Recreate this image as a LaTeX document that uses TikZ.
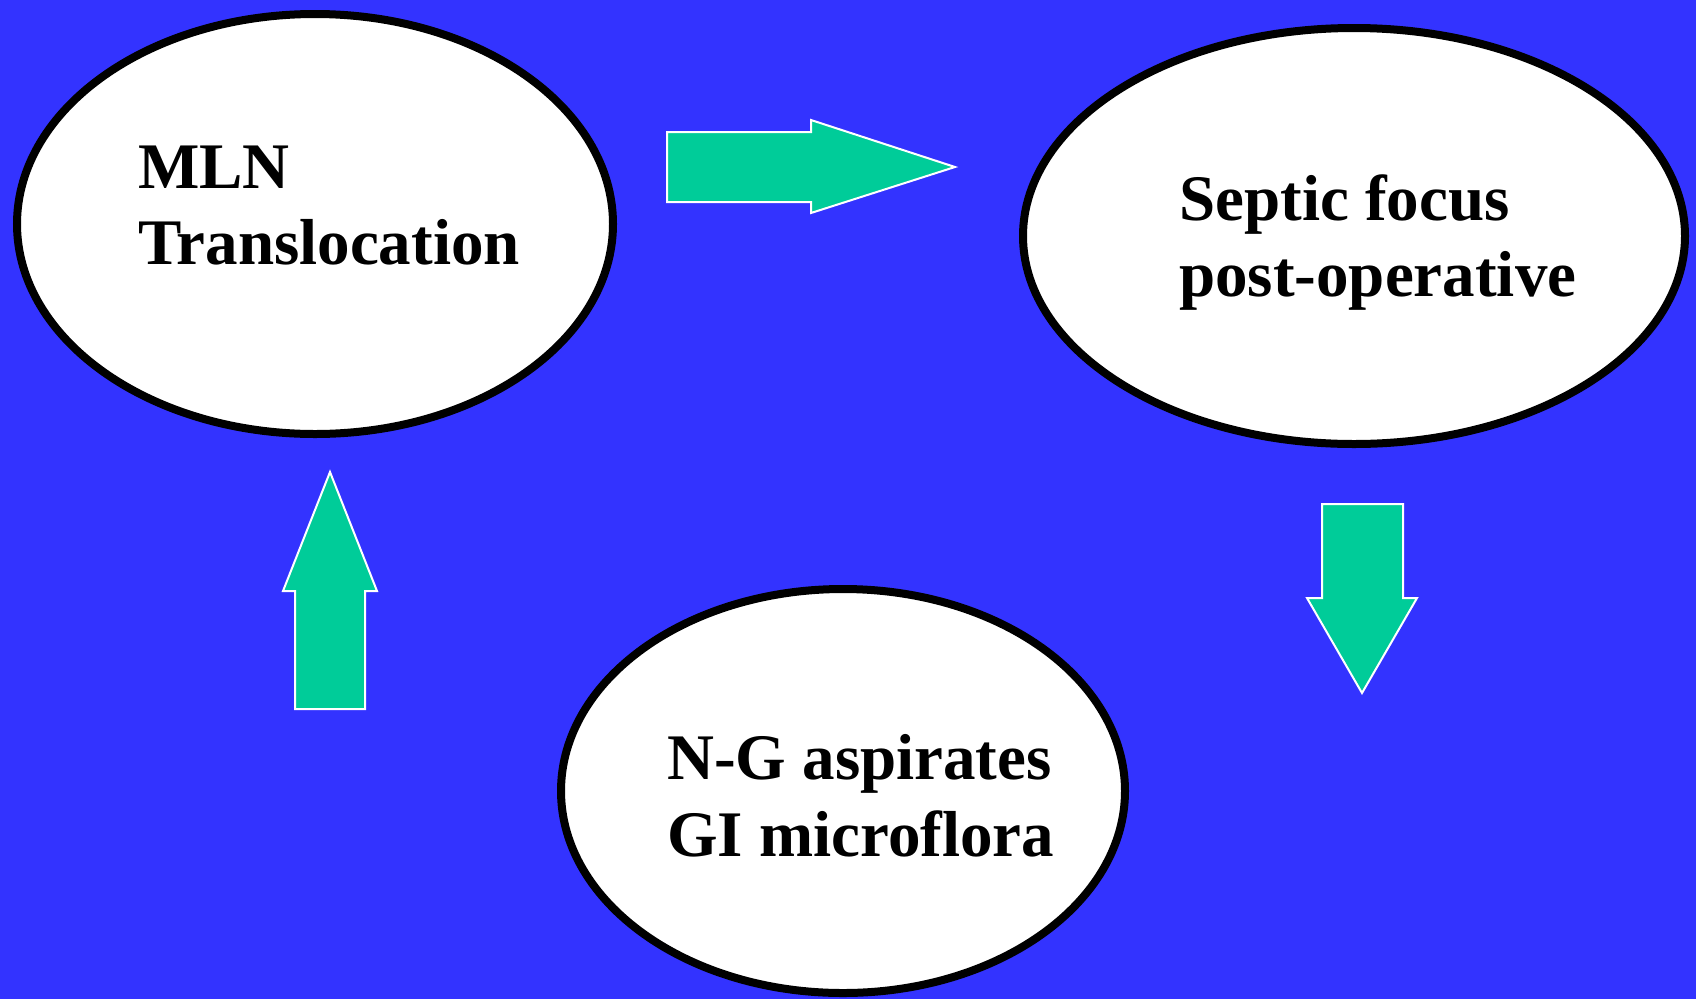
\documentclass[tikz,border=0pt]{standalone}
\usepackage{fontspec}
\setmainfont{Liberation Serif}
\usetikzlibrary{shapes.geometric}
\definecolor{bgblue}{HTML}{3333FF}
\definecolor{arrgreen}{HTML}{00CC99}
\begin{document}
\begin{tikzpicture}[x=1pt,y=-1pt,
  bubble/.style={ellipse,draw=black,fill=white,line width=8pt,inner sep=0pt},
  label/.style={anchor=base west,inner sep=0pt,align=left,font=\fontsize{65}{75}\selectfont\bfseries},
  blockarrow/.style={fill=arrgreen,draw=white,line width=2pt,line join=miter}]
\fill[bgblue] (0,0) rectangle (1696,999);
\useasboundingbox (0,0) rectangle (1696,999);
% ellipses
\node[bubble,minimum width=596pt,minimum height=420pt] (mln) at (315,224) {};
\node[bubble,minimum width=662pt,minimum height=416pt] (sep) at (1354,236) {};
\node[bubble,minimum width=564pt,minimum height=404pt] (ng) at (843,791) {};
% texts
\node[label] (t1a) at (138,188) {MLN};
\node[label] (t1b) at (138,264) {Translocation};
\node[label] (t2a) at (1179,220) {Septic focus};
\node[label] (t2b) at (1179,296) {post-operative};
\node[label] (t3a) at (667,779) {N-G aspirates};
\node[label] (t3b) at (667,856) {GI microflora};
% block arrows
\draw[blockarrow] (667,132) -- (811,132) -- (811,120) -- (955,167) -- (811,213) -- (811,202) -- (667,202) -- cycle;
\draw[blockarrow] (1322,504) -- (1403,504) -- (1403,598) -- (1417,598) -- (1362,693) -- (1307,598) -- (1322,598) -- cycle;
\draw[blockarrow] (295,709) -- (295,591) -- (283,591) -- (330,472) -- (377,591) -- (365,591) -- (365,709) -- cycle;
\end{tikzpicture}
\end{document}
